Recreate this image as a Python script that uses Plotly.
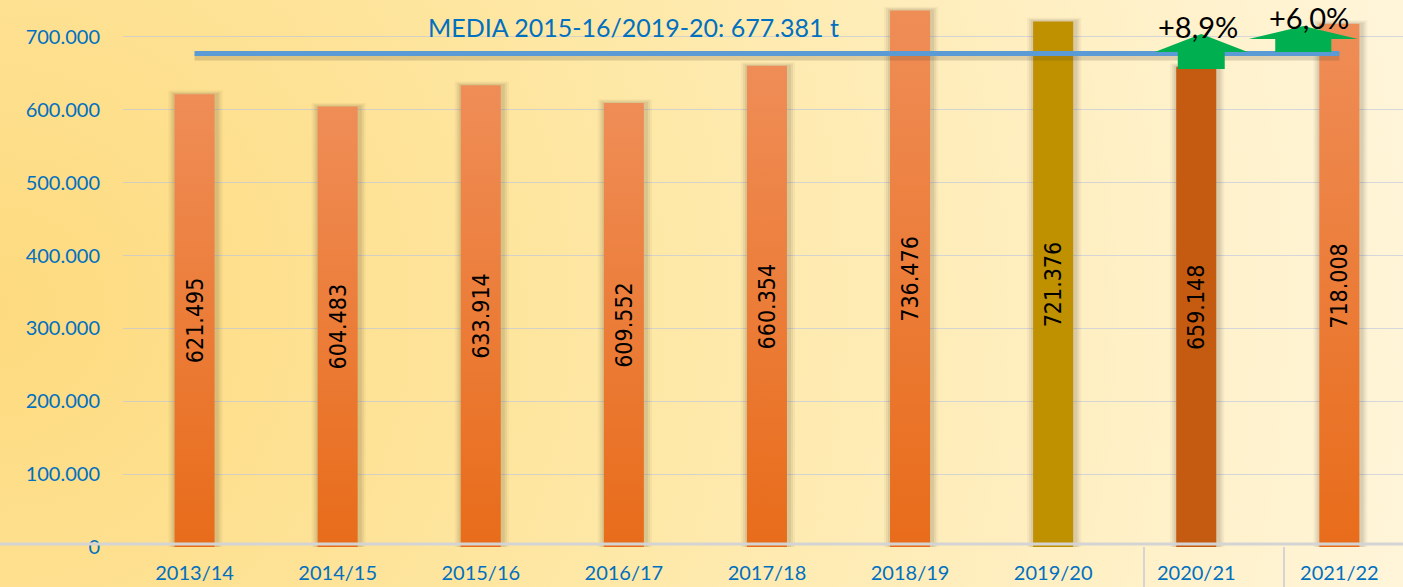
import base64
import plotly.graph_objects as go

# ---------------- data ----------------
seasons = ["2013/14", "2014/15", "2015/16", "2016/17", "2017/18",
           "2018/19", "2019/20", "2020/21", "2021/22"]
production = [621495, 604483, 633914, 609552, 660354, 736476, 721376, 659148, 718008]
bar_styles = ["grad", "grad", "grad", "grad", "grad", "grad", "#BF9000", "#C55A11", "grad"]
mean_value = 677381
mean_label = "MEDIA 2015-16/2019-20: 677.381 t"
change_labels = ["+8,9%", "+6,0%"]
y_ticks = [0, 100000, 200000, 300000, 400000, 500000, 600000, 700000]
y_ticktext = ["0", "100.000", "200.000", "300.000", "400.000", "500.000", "600.000", "700.000"]

# ---------------- style ----------------
W, H = 1403, 587
ML, MB = 123, 40
PW, PH = W - ML, H - MB
X_RANGE = [-0.5, -0.5 + PW / 143.1]
Y_RANGE = [0, 750760]
PX_X = 1 / 143.1                       # data units per pixel (x)
PX_Y = (Y_RANGE[1] - Y_RANGE[0]) / PH  # data units per pixel (y)
HALF = 0.14
BLUE = "#0070C0"
GREEN = "#00B050"
TICK_FONT = dict(family="Lato, sans-serif", size=20, color=BLUE)
LABEL_FONT = dict(family="Liberation Sans Narrow, DejaVu Sans Condensed, sans-serif", size=23, color="black")

fig = go.Figure()

# background gradient (whole figure)
svg = (
    f'<svg xmlns="http://www.w3.org/2000/svg" width="{W}" height="{H}" viewBox="0 0 {W} {H}" '
    'preserveAspectRatio="none"><defs><radialGradient id="g" gradientUnits="userSpaceOnUse" '
    'cx="0" cy="310" r="1450"><stop offset="0" stop-color="#FDDA7E"/>'
    '<stop offset="0.45" stop-color="#FEE8A6"/><stop offset="1" stop-color="#FFF5DA"/>'
    f'</radialGradient></defs><rect width="{W}" height="{H}" fill="url(#g)"/></svg>'
)
bg_src = "data:image/svg+xml;base64," + base64.b64encode(svg.encode()).decode()
fig.add_layout_image(dict(source=bg_src, xref="paper", yref="paper",
                          x=-ML / PW, y=1, sizex=W / PW, sizey=H / PH,
                          sizing="stretch", layer="below", xanchor="left", yanchor="top"))

# bar shadows
for k, alpha in [(6, 0.05), (4, 0.07), (2, 0.09)]:
    xs, ys = [], []
    for i, v in enumerate(production):
        dx = HALF + k * PX_X
        top = v + k * 0.6 * PX_Y
        xs += [i - dx, i - dx, i + dx + PX_X * 2, i + dx + PX_X * 2, i - dx, None]
        ys += [0, top, top, 0, 0, None]
    fig.add_trace(go.Scatter(x=xs, y=ys, mode="lines", fill="toself", line=dict(width=0),
                             fillcolor=f"rgba(70,60,40,{alpha})", hoverinfo="skip", showlegend=False))

# bars
for i, (v, st) in enumerate(zip(production, bar_styles)):
    xs = [i - HALF, i - HALF, i + HALF, i + HALF, i - HALF]
    ys = [0, v, v, 0, 0]
    kw = dict(x=xs, y=ys, mode="lines", fill="toself", line=dict(width=0),
              hoverinfo="skip", showlegend=False, name=seasons[i])
    if st == "grad":
        kw["fillgradient"] = dict(type="vertical",
                                  colorscale=[[0, "#E86C1A"], [1, "#EF8D57"]])
    else:
        kw["fillcolor"] = st
    fig.add_trace(go.Scatter(**kw))

# mean line (shadow + line)
fig.add_trace(go.Scatter(x=[0, 8], y=[mean_value - 3 * PX_Y] * 2, mode="lines",
                         line=dict(color="rgba(70,60,40,0.18)", width=8),
                         hoverinfo="skip", showlegend=False))
fig.add_trace(go.Scatter(x=[0, 8], y=[mean_value] * 2, mode="lines",
                         line=dict(color="#5B9BD5", width=5),
                         hoverinfo="skip", showlegend=False))

# value labels
for i, v in enumerate(production):
    fig.add_annotation(x=i, y=v / 2, text=f"{v:,}".replace(",", "."), textangle=-90,
                       showarrow=False, font=LABEL_FONT)

# mean title
fig.add_annotation(x=3.064, y=713700, text=mean_label, showarrow=False,
                   font=dict(family="Lato, sans-serif", size=25, color=BLUE))


# green arrows (positioned relative to the 2020/21 and 2021/22 categories)
def arrow(cx, head_hw, shaft_hw, apex, base, bottom):
    return (f"M {cx - shaft_hw},{bottom} L {cx - shaft_hw},{base} L {cx - head_hw},{base} "
            f"L {cx},{apex} L {cx + head_hw},{base} L {cx + shaft_hw},{base} "
            f"L {cx + shaft_hw},{bottom} Z")


arrows = [
    dict(cx=7 + 0.035, head_hw=0.325, shaft_hw=0.164, apex=704100, base=679400, bottom=656000),
    dict(cx=8 - 0.252, head_hw=0.381, shaft_hw=0.196, apex=715000, base=697200, bottom=679400),
]
for a in arrows:
    fig.add_shape(type="path", xref="x", yref="y", path=arrow(**a),
                  fillcolor=GREEN, line=dict(width=0), layer="above")

fig.add_annotation(x=7.01, y=714500, text=change_labels[0], showarrow=False,
                   font=dict(family="Lato, sans-serif", size=29, color="black"))
fig.add_annotation(x=7.79, y=727000, text=change_labels[1], showarrow=False,
                   font=dict(family="Lato, sans-serif", size=29, color="black"))

# x-axis base line and separators
fig.add_shape(type="line", xref="paper", yref="y", x0=-ML / PW, x1=1,
              y0=3 * PX_Y, y1=3 * PX_Y, line=dict(color="#D4D4D4", width=3), layer="above")
for xp in [1144, 1284]:
    xd = (xp - ML) / PW
    fig.add_shape(type="line", xref="paper", yref="paper", x0=xd, x1=xd,
                  y0=0, y1=-MB / PH, line=dict(color="#D4D4D4", width=2))

fig.update_layout(
    width=W, height=H,
    margin=dict(l=ML, r=0, t=0, b=MB, pad=0),
    paper_bgcolor="rgba(0,0,0,0)", plot_bgcolor="rgba(0,0,0,0)",
    showlegend=False,
    xaxis=dict(range=X_RANGE, tickvals=list(range(len(seasons))), ticktext=seasons,
               showgrid=False, zeroline=False, showline=False, ticks="",
               tickfont=TICK_FONT, ticklabelstandoff=12, fixedrange=True),
    yaxis=dict(range=Y_RANGE, tickvals=y_ticks, ticktext=y_ticktext,
               showgrid=True, gridcolor="rgba(185,195,225,0.6)", gridwidth=1,
               zeroline=False, showline=False, ticks="",
               tickfont=TICK_FONT, ticklabelstandoff=22, fixedrange=True),
)

fig.write_html("out.html", config={"displayModeBar": False},
               post_script="document.body.style.margin='0';document.body.style.overflow='hidden';")
